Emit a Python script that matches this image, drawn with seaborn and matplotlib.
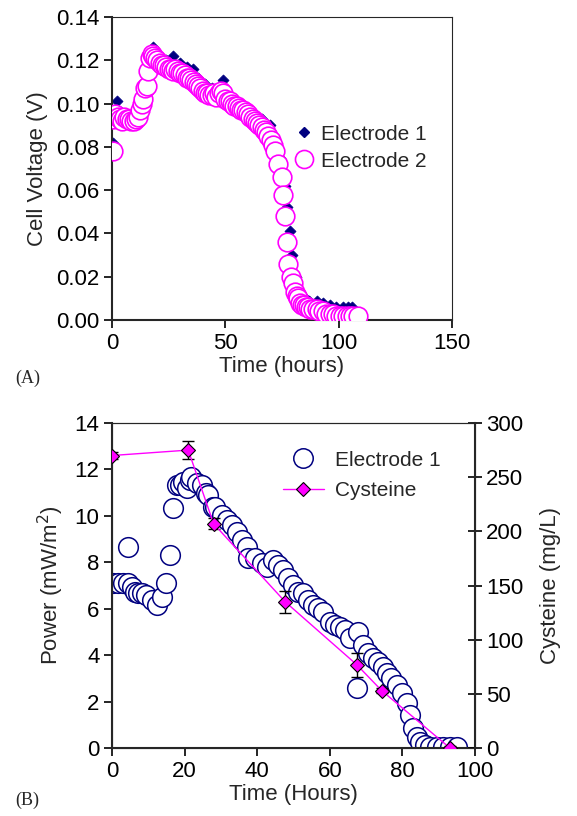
import matplotlib
matplotlib.use("Agg")
import matplotlib.pyplot as plt
import seaborn as sns
from matplotlib.ticker import FormatStrFormatter
from matplotlib.lines import Line2D

# ---- panel A: cell voltage ----
time_e2 = [0.3, 0.6, 1.5, 2.5, 3.5, 4.5, 5.5, 6.5, 7.5, 8.5, 9.5, 10.5, 11.5, 12.4,
           13.1, 13.8, 14.5, 15.3, 16.0, 16.8, 17.5, 18.3, 19.0, 20.0, 21.0, 22.0,
           23.0, 24.0, 25.0, 26.0, 27.0, 28.0, 29.0, 30.0, 31.0, 32.0, 33.0, 34.0,
           35.0, 36.0, 37.0, 38.0, 39.0, 40.0, 41.0, 42.0, 43.0, 44.0, 45.0, 46.0,
           47.0, 48.0, 49.0, 50.0, 51.0, 52.0, 53.0, 54.0, 55.0, 56.0, 57.0, 58.0,
           59.0, 60.0, 61.0, 62.0, 63.0, 64.0, 65.0, 66.0, 67.0, 68.0, 69.0, 70.0,
           71.0, 72.0, 73.4, 74.9, 75.6, 76.3, 77.0, 77.8, 78.8, 79.7, 80.7, 81.5,
           82.2, 83.0, 83.7, 84.5, 85.5, 86.6, 87.5, 88.5, 90.3, 91.5, 93.2, 94.5,
           96.2, 97.5, 99.0, 100.6, 102.0, 103.5, 105.0, 106.5, 108.7]
volt_e2 = [0.078, 0.093, 0.095, 0.094, 0.093, 0.092, 0.094, 0.093, 0.093, 0.092, 0.092,
           0.093, 0.094, 0.097, 0.100, 0.102, 0.107, 0.108, 0.115, 0.121, 0.123, 0.122,
           0.121, 0.120, 0.119, 0.118, 0.118, 0.117, 0.116, 0.116, 0.115, 0.116, 0.115,
           0.114, 0.114, 0.113, 0.112, 0.112, 0.111, 0.110, 0.109, 0.108, 0.107, 0.106,
           0.105, 0.105, 0.104, 0.104, 0.105, 0.103, 0.105, 0.106, 0.105, 0.102, 0.101,
           0.101, 0.100, 0.099, 0.099, 0.098, 0.097, 0.097, 0.096, 0.095, 0.094, 0.093,
           0.092, 0.091, 0.090, 0.089, 0.088, 0.087, 0.085, 0.083, 0.081, 0.078, 0.072,
           0.066, 0.058, 0.048, 0.036, 0.026, 0.020, 0.017, 0.013, 0.011, 0.010, 0.008,
           0.007, 0.007, 0.006, 0.006, 0.005, 0.005, 0.005, 0.004, 0.004, 0.003, 0.003,
           0.003, 0.002, 0.002, 0.002, 0.002, 0.002, 0.002, 0.002]

time_e1 = [0.3, 2.0, 4.0, 6.0, 8.0, 10.0, 12.0, 14.0, 16.0, 18.2, 20.0, 22.0, 24.0,
           27.0, 30.0, 33.0, 35.9, 38.0, 41.0, 44.0, 46.0, 49.1, 51.0, 54.0, 57.0,
           60.0, 63.0, 66.0, 69.7, 72.0, 74.0, 75.5, 76.3, 77.2, 78.4, 79.5, 81.0,
           83.0, 85.0, 87.0, 90.3, 93.0, 96.2, 99.0, 102.0, 104.0, 106.0]
volt_e1 = [0.082, 0.101, 0.096, 0.095, 0.094, 0.094, 0.095, 0.101, 0.112, 0.126, 0.123,
           0.121, 0.120, 0.122, 0.119, 0.117, 0.116, 0.112, 0.109, 0.107, 0.106, 0.111,
           0.104, 0.102, 0.100, 0.098, 0.095, 0.093, 0.090, 0.083, 0.075, 0.068, 0.062,
           0.052, 0.041, 0.030, 0.020, 0.013, 0.010, 0.009, 0.009, 0.008, 0.007, 0.006,
           0.006, 0.006, 0.006]

# ---- panel B: power and cysteine ----
time_pw = [0.4, 1.7, 3.1, 4.3, 4.5, 5.4, 6.3, 7.3, 8.2, 9.5, 10.9, 12.3, 13.7, 15.0,
           16.0, 16.9, 17.8, 18.7, 19.6, 20.6, 21.5, 21.9, 23.3, 24.7, 25.9, 26.5,
           27.9, 28.4, 30.2, 31.6, 33.0, 34.3, 35.7, 37.1, 37.5, 39.4, 41.2, 42.6,
           44.4, 45.8, 47.2, 48.6, 49.9, 51.3, 52.7, 54.1, 55.5, 56.8, 58.2, 60.0,
           61.4, 62.8, 64.2, 65.6, 67.4, 67.9, 69.2, 70.6, 72.0, 73.4, 74.7, 75.7,
           77.0, 78.4, 79.8, 81.2, 82.1, 83.0, 83.9, 84.8, 86.2, 87.6, 89.4, 91.3,
           93.1, 95.0]
power = [7.10, 7.10, 7.10, 8.67, 7.10, 6.95, 6.73, 6.66, 6.66, 6.59, 6.38, 6.16, 6.52,
         7.10, 8.32, 10.33, 11.33, 11.33, 11.47, 11.19, 11.55, 11.69, 11.40, 11.33,
         10.97, 10.90, 10.40, 10.40, 10.04, 9.82, 9.60, 9.32, 8.96, 8.67, 8.17, 8.17,
         7.95, 7.81, 8.10, 7.88, 7.67, 7.31, 7.02, 6.73, 6.66, 6.38, 6.16, 6.02, 5.87,
         5.44, 5.30, 5.23, 5.08, 4.73, 2.57, 5.01, 4.44, 4.08, 3.86, 3.72, 3.50, 3.22,
         3.00, 2.71, 2.36, 1.93, 1.42, 0.85, 0.49, 0.27, 0.13, 0.06, 0.03, 0.03, 0.03,
         0.06]

time_cys = [0.0, 21.0, 28.0, 47.7, 67.4, 74.3, 93.1]
cysteine = [270, 275, 207, 135, 77, 53, 0]
cysteine_err = [3, 8, 5, 10, 11, 2, 2]

NAVY = "#000080"
MAGENTA = "#ff00ff"
FS = 16

sns.set_style("ticks")
plt.rcParams["font.family"] = ["Liberation Sans", "DejaVu Sans"]
plt.rcParams["axes.unicode_minus"] = False

fig = plt.figure(figsize=(5.77, 8.16), dpi=100)
ax_a = fig.add_axes([0.1941, 0.6078, 0.5893, 0.3713])
ax_b = fig.add_axes([0.1941, 0.0833, 0.6291, 0.3983])


def style_axes(ax):
    for side in ("left", "bottom"):
        ax.spines[side].set_linewidth(1.5)
    for side in ("top", "right"):
        ax.spines[side].set_linewidth(0.8)
    ax.tick_params(axis="both", direction="out", length=6, width=1.2,
                   labelsize=FS, colors="black", pad=3)


# panel A
sns.scatterplot(x=time_e1, y=volt_e1, ax=ax_a, marker="D", s=32, color=NAVY,
                edgecolor=NAVY, linewidth=0.5, zorder=2)
sns.scatterplot(x=time_e2, y=volt_e2, ax=ax_a, marker="o", s=180, facecolor="white",
                edgecolor=MAGENTA, linewidth=1.2, zorder=3)
ax_a.set_xlim(0, 150)
ax_a.set_ylim(0, 0.14)
ax_a.set_xticks([0, 50, 100, 150])
ax_a.set_yticks([0, 0.02, 0.04, 0.06, 0.08, 0.10, 0.12, 0.14])
ax_a.yaxis.set_major_formatter(FormatStrFormatter("%.2f"))
ax_a.set_xlabel("Time (hours)", fontsize=FS, labelpad=2)
ax_a.set_ylabel("Cell Voltage (V)", fontsize=FS, labelpad=6)
style_axes(ax_a)

handles_a = [
    Line2D([], [], ls="none", marker="D", markersize=5.5, color=NAVY),
    Line2D([], [], ls="none", marker="o", markersize=13, markerfacecolor="white",
           markeredgecolor=MAGENTA, markeredgewidth=1.2),
]
ax_a.legend(handles_a, ["Electrode 1", "Electrode 2"], loc="upper left",
            bbox_to_anchor=(0.535, 0.645), frameon=False, fontsize=15,
            handlelength=1.0, handletextpad=0.3, labelspacing=0.38,
            borderpad=0, borderaxespad=0)

# panel B
sns.scatterplot(x=time_pw, y=power, ax=ax_b, marker="o", s=200, facecolor="white",
                edgecolor=NAVY, linewidth=1.1, zorder=2)
ax_b.set_xlim(0, 100)
ax_b.set_ylim(0, 14)
ax_b.set_xticks(range(0, 101, 20))
ax_b.set_yticks(range(0, 15, 2))
ax_b.set_xlabel("Time (Hours)", fontsize=FS, labelpad=2)
ax_b.set_ylabel("Power (mW/m$^2$)", fontsize=FS, labelpad=6)
style_axes(ax_b)

ax_c = ax_b.twinx()
ax_c.errorbar(time_cys, cysteine, yerr=cysteine_err, fmt="none", ecolor="black",
              elinewidth=1.0, capsize=4, capthick=1.0, zorder=2)
sns.lineplot(x=time_cys, y=cysteine, ax=ax_c, color=MAGENTA, linewidth=1.0,
             marker="D", markersize=7.5, markerfacecolor=MAGENTA,
             markeredgecolor="black", markeredgewidth=0.8, zorder=3)
ax_c.set_ylim(0, 300)
ax_c.set_yticks(range(0, 301, 50))
ax_c.set_ylabel("Cysteine (mg/L)", fontsize=FS, labelpad=12)
ax_c.spines["right"].set_linewidth(1.5)
ax_c.spines["top"].set_linewidth(0.8)
ax_c.tick_params(axis="y", direction="inout", length=10, width=1.2,
                 labelsize=FS, colors="black", pad=3)

handles_b = [
    Line2D([], [], ls="none", marker="o", markersize=14, markerfacecolor="white",
           markeredgecolor=NAVY, markeredgewidth=1.1),
    Line2D([], [], color=MAGENTA, lw=1.0, marker="D", markersize=7.5,
           markerfacecolor=MAGENTA, markeredgecolor="black", markeredgewidth=0.8),
]
ax_c.legend(handles_b, ["Electrode 1", "Cysteine"], loc="upper left",
            bbox_to_anchor=(0.47, 0.915), frameon=False, fontsize=15,
            handlelength=2.0, handletextpad=0.5, labelspacing=0.55,
            borderpad=0, borderaxespad=0)

fig.text(0.026, 0.536, "(A)", family="Liberation Serif", fontsize=13, va="center")
fig.text(0.026, 0.019, "(B)", family="Liberation Serif", fontsize=13, va="center")

fig.savefig("out.png", dpi=100)
